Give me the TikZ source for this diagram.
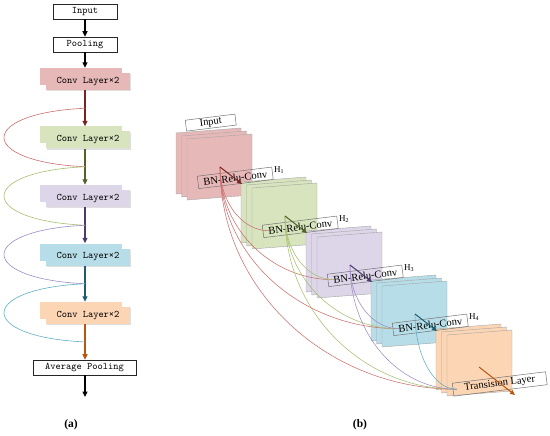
\documentclass[tikz,border=0pt]{standalone}
\usepackage{fontspec}
\setmainfont{Liberation Serif}
\usetikzlibrary{arrows.meta,calc,shadows}
\definecolor{pinkF}{HTML}{E6B9B8}
\definecolor{greenF}{HTML}{D7E4BD}
\definecolor{purpF}{HTML}{DDD6E9}
\definecolor{blueF}{HTML}{B7DEE8}
\definecolor{orgF}{HTML}{FCD5B5}
\definecolor{redA}{HTML}{7B2323}
\definecolor{greenA}{HTML}{4F6228}
\definecolor{purpA}{HTML}{4B3A6B}
\definecolor{blueA}{HTML}{1F5D6E}
\definecolor{orgA}{HTML}{B8560E}
\definecolor{redC}{HTML}{C9706E}
\definecolor{greenC}{HTML}{A6BF6E}
\definecolor{purpC}{HTML}{9F8CC4}
\definecolor{blueC}{HTML}{5FB0C4}
\newcommand\featstack[2]{%
  \begin{scope}[shift={(#1)}]
    \foreach \d in {11,5.5,0} {
      \filldraw[fill=#2, draw=black!35, line width=0.4pt]
        (-\d,-\d*0.545) -- ++(65,-5) -- ++(0,61) -- ++(-65,5) -- cycle;
    }
  \end{scope}}
\newcommand\dcurve[3]{%
  \draw[dline, #1] (#2) .. controls ($(#2)!0.55!(#2|-#3)$) and ($(#3)!0.55!(#2|-#3)$) .. (#3);}
\begin{document}
\begin{tikzpicture}[x=1pt,y=-1pt,
  mono/.style={font=\ttfamily\fontsize{10}{11}\selectfont},
  lbox/.style={mono, draw=black!85, line width=0.6pt, inner sep=0pt, minimum height=15pt},
  convback/.style={fill=#1, inner sep=0pt, minimum width=82pt, minimum height=17pt},
  convfront/.style={mono, fill=#1, inner sep=0pt, minimum width=84pt, minimum height=17pt,
     drop shadow={shadow xshift=1.2pt, shadow yshift=-1.2pt, opacity=0.25}},
  flow/.style={line width=1.1pt, -{Triangle[length=5.5pt,width=5pt]}},
  skipA/.style={line width=0.6pt},
  dline/.style={line width=0.55pt},
  bnbox/.style={draw=black!55, line width=0.5pt, inner sep=0pt, rotate=7,
     minimum width=75pt, minimum height=12.5pt, font=\fontsize{10.5}{11}\selectfont},
  hlab/.style={inner sep=0pt, font=\fontsize{9}{10}\selectfont},
  barrow/.style={line width=1pt, -{Triangle[length=5pt,width=4.5pt]}},
  captext/.style={font=\bfseries\fontsize{11.5}{12}\selectfont}
]
\useasboundingbox (0,0) rectangle (550,436);
% ---------------- panel (a) ----------------
\node[lbox, minimum width=64pt] (in) at (85,11.5) {Input};
\node[lbox, minimum width=64pt] (pool) at (85,44.5) {Pooling};
\node[convback=pinkF] (cb1) at (81,76.5) {};
\node[convfront=pinkF] (c1) at (88,81.5) {Conv Layer×2};
\node[convback=greenF] (cb2) at (81,135) {};
\node[convfront=greenF] (c2) at (88,140) {Conv Layer×2};
\node[convback=purpF] (cb3) at (81,193.5) {};
\node[convfront=purpF] (c3) at (88,198.5) {Conv Layer×2};
\node[convback=blueF] (cb4) at (81,252) {};
\node[convfront=blueF] (c4) at (88,257) {Conv Layer×2};
\node[convback=orgF] (cb5) at (81,310.5) {};
\node[convfront=orgF] (c5) at (88,315.5) {Conv Layer×2};
\node[lbox, minimum width=103pt] (avg) at (84.5,367.5) {Average Pooling};
\coordinate (out) at (85,397);
\node[captext] (capa) at (71,425) {(a)};

\draw[flow] (in) -- (pool);
\draw[flow] (pool) -- (cb1.north -| pool.south);
\draw[flow, redA] (c1.south -| in.south) -- (cb2.north -| in.south);
\draw[flow, greenA] (c2.south -| in.south) -- (cb3.north -| in.south);
\draw[flow, purpA] (c3.south -| in.south) -- (cb4.north -| in.south);
\draw[flow, blueA] (c4.south -| in.south) -- (cb5.north -| in.south);
\draw[flow, orgA] (c5.south -| in.south) -- (avg.north -| in.south);
\draw[flow] (avg.south -| in.south) -- (out);

\coordinate (m1) at ($(c1.south -| in.south)!0.5!(cb2.north -| in.south)$);
\coordinate (m2) at ($(c2.south -| in.south)!0.5!(cb3.north -| in.south)$);
\coordinate (m3) at ($(c3.south -| in.south)!0.5!(cb4.north -| in.south)$);
\coordinate (m4) at ($(c4.south -| in.south)!0.5!(cb5.north -| in.south)$);
\coordinate (m5) at ($(c5.south -| in.south)!0.5!(avg.north -| in.south)$);
\draw[skipA, redC]   (m1) .. controls ($(m1)+(-108,5)$) and ($(m2)+(-108,-5)$) .. (m2);
\draw[skipA, greenC] (m2) .. controls ($(m2)+(-108,5)$) and ($(m3)+(-108,-5)$) .. (m3);
\draw[skipA, purpC]  (m3) .. controls ($(m3)+(-108,5)$) and ($(m4)+(-108,-5)$) .. (m4);
\draw[skipA, blueC]  (m4) .. controls ($(m4)+(-108,5)$) and ($(m5)+(-108,-5)$) .. (m5);

% ---------------- panel (b) ----------------
\coordinate (s1) at (187,139);
\coordinate (s2) at (252,188);
\coordinate (s3) at (317,237);
\coordinate (s4) at (382,286);
\coordinate (s5) at (447,335);
\featstack{s1}{pinkF}
\featstack{s2}{greenF}
\featstack{s3}{purpF}
\featstack{s4}{blueF}
\featstack{s5}{orgF}

\node[bnbox, fill=white, minimum width=50pt, minimum height=11pt, anchor=north west] (inb) at ($(s1)+(-2,-19)$) {Input};
\node[bnbox, anchor=north west] (b1) at ($(s1)+(10,37)$) {BN-Relu-Conv};
\node[bnbox, anchor=north west] (b2) at ($(s2)+(10,37)$) {BN-Relu-Conv};
\node[bnbox, anchor=north west] (b3) at ($(s3)+(10,37)$) {BN-Relu-Conv};
\node[bnbox, anchor=north west] (b4) at ($(s4)+(10,37)$) {BN-Relu-Conv};
\node[bnbox, minimum width=94pt, minimum height=13pt, anchor=north west] (tr) at ($(s5)+(5,48)$) {Transision Layer};
\node[hlab, anchor=west] (h1) at ([xshift=2pt,yshift=-3pt]b1.north east) {H\textsubscript{1}};
\node[hlab, anchor=west] (h2) at ([xshift=2pt,yshift=-3pt]b2.north east) {H\textsubscript{2}};
\node[hlab, anchor=west] (h3) at ([xshift=2pt,yshift=-3pt]b3.north east) {H\textsubscript{3}};
\node[hlab, anchor=west] (h4) at ([xshift=2pt,yshift=-3pt]b4.north east) {H\textsubscript{4}};

\coordinate (p1) at ($(s1)+(33,28)$);
\coordinate (p2) at ($(s2)+(33,28)$);
\coordinate (p3) at ($(s3)+(33,28)$);
\coordinate (p4) at ($(s4)+(33,28)$);
\coordinate (p5) at ($(s5)+(32,32)$);
\coordinate (e1) at ($(s1)+(55,45)$);
\coordinate (e2) at ($(s2)+(55,45)$);
\coordinate (e3) at ($(s3)+(55,45)$);
\coordinate (e4) at ($(s4)+(55,45)$);
\coordinate (e5) at ($(s5)+(68,60)$);
\coordinate (t2) at ($(b2.west)!0.08!(b2.east)$);
\coordinate (t3) at ($(b3.west)!0.08!(b3.east)$);
\coordinate (t4) at ($(b4.west)!0.08!(b4.east)$);
\coordinate (t5) at ($(tr.west)!0.04!(tr.east)$);

\dcurve{redC}{p1}{t2}
\dcurve{redC}{p1}{t3}
\dcurve{redC}{p1}{t4}
\dcurve{redC}{p1}{t5}
\dcurve{greenC}{p2}{t3}
\dcurve{greenC}{p2}{t4}
\dcurve{greenC}{p2}{t5}
\dcurve{purpC}{p3}{t4}
\dcurve{purpC}{p3}{t5}
\dcurve{blueC}{p4}{t5}

\draw[barrow, redA] (p1) -- (e1);
\draw[barrow, greenA] (p2) -- (e2);
\draw[barrow, purpA] (p3) -- (e3);
\draw[barrow, blueA] (p4) -- (e4);
\draw[barrow, orgA] (p5) -- (e5);

\node[captext] (capb) at (360,425) {(b)};
\end{tikzpicture}
\end{document}
